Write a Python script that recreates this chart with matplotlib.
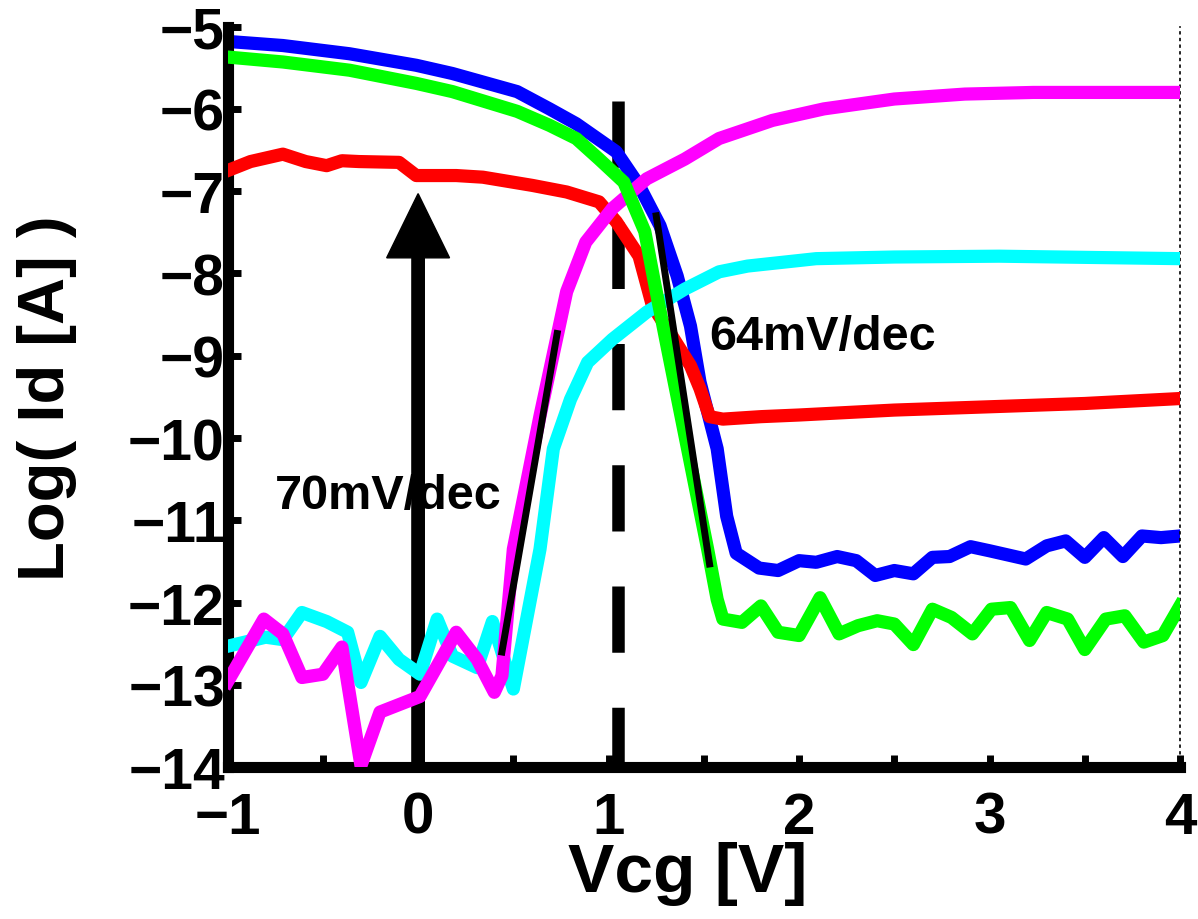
import matplotlib
matplotlib.use('Agg')
import matplotlib.pyplot as plt
from matplotlib.ticker import MultipleLocator

plt.rcParams['font.family'] = ['Liberation Sans', 'DejaVu Sans']
plt.rcParams['font.weight'] = 'bold'

# Vcg [V] vs log10(Id [A])
blue_x = [-1.0, -0.71, -0.36, -0.01, 0.18, 0.52, 0.69, 0.83, 1.04, 1.16,
          1.27, 1.36, 1.43, 1.48, 1.57, 1.62, 1.67, 1.79, 1.89, 2.00,
          2.09, 2.20, 2.30, 2.40, 2.50, 2.60, 2.70, 2.79, 2.90, 3.00,
          3.19, 3.30, 3.40, 3.50, 3.60, 3.70, 3.80, 3.90, 4.00]
blue_y = [-5.18, -5.23, -5.33, -5.47, -5.57, -5.79, -6.00, -6.18, -6.52, -6.93,
          -7.42, -8.03, -8.64, -9.32, -10.13, -10.95, -11.40, -11.58, -11.61, -11.49,
          -11.51, -11.44, -11.49, -11.67, -11.61, -11.65, -11.45, -11.44, -11.32, -11.37,
          -11.47, -11.31, -11.25, -11.45, -11.21, -11.44, -11.19, -11.21, -11.19]

green_x = [-1.0, -0.71, -0.36, -0.01, 0.18, 0.52, 0.69, 0.83, 0.95,
           1.08, 1.19, 1.24, 1.31, 1.38, 1.45, 1.52, 1.57, 1.60,
           1.70, 1.80, 1.89, 2.00, 2.11, 2.21, 2.31, 2.41, 2.50, 2.60,
           2.70, 2.80, 2.91, 3.01, 3.11, 3.21, 3.30, 3.41, 3.50, 3.61,
           3.71, 3.81, 3.91, 4.00]
green_y = [-5.37, -5.43, -5.53, -5.69, -5.79, -6.03, -6.20, -6.36, -6.61,
           -6.89, -7.49, -8.10, -8.92, -9.73, -10.54, -11.35, -11.96, -12.20,
           -12.24, -12.04, -12.36, -12.40, -11.94, -12.38, -12.28, -12.22, -12.26, -12.51,
           -12.08, -12.18, -12.38, -12.08, -12.06, -12.46, -12.12, -12.20, -12.57, -12.20,
           -12.16, -12.48, -12.40, -12.04]

red_x = [-1.0, -0.88, -0.71, -0.59, -0.48, -0.40, -0.31, -0.10, -0.01, 0.20,
         0.34, 0.60, 0.78, 0.95, 1.04, 1.16, 1.23, 1.33, 1.43, 1.48,
         1.53, 1.60, 1.80, 2.00, 2.50, 3.00, 3.50, 4.00]
red_y = [-6.75, -6.64, -6.55, -6.64, -6.69, -6.63, -6.64, -6.65, -6.81, -6.81,
         -6.83, -6.93, -7.01, -7.13, -7.37, -7.79, -8.39, -8.75, -9.12, -9.40,
         -9.74, -9.77, -9.74, -9.72, -9.66, -9.62, -9.58, -9.52]

mag_x = [-1.0, -0.81, -0.71, -0.61, -0.50, -0.40, -0.30, -0.20, 0.01, 0.20,
         0.31, 0.40, 0.44, 0.50, 0.64, 0.73, 0.78, 0.88, 1.02, 1.20,
         1.40, 1.58, 1.86, 2.13, 2.50, 2.87, 3.23, 3.60, 4.00]
mag_y = [-12.96, -12.20, -12.38, -12.91, -12.87, -12.54, -13.98, -13.33, -13.14, -12.36,
         -12.69, -13.09, -12.89, -11.35, -9.73, -8.76, -8.22, -7.62, -7.21, -6.85,
         -6.61, -6.36, -6.14, -6.00, -5.88, -5.82, -5.80, -5.80, -5.80]

cyan_x = [-1.0, -0.80, -0.71, -0.61, -0.48, -0.37, -0.30, -0.20, -0.10, 0.01,
          0.10, 0.18, 0.31, 0.39, 0.50, 0.64, 0.71, 0.80, 0.89, 1.02,
          1.20, 1.40, 1.58, 1.73, 2.09, 2.50, 3.05, 4.00]
cyan_y = [-12.53, -12.42, -12.45, -12.12, -12.23, -12.36, -12.97, -12.41, -12.69, -12.87,
          -12.20, -12.65, -12.79, -12.23, -13.05, -11.35, -10.13, -9.53, -9.08, -8.80,
          -8.47, -8.19, -7.98, -7.91, -7.82, -7.80, -7.79, -7.82]

# subthreshold slope fits
fit70_x = [0.44, 0.73]
fit70_y = [-12.60, -8.73]
fit64_x = [1.25, 1.53]
fit64_y = [-7.30, -11.53]

vline_x = 1.05
arrow_x = 0.0
arrow_top = -7.03

fig = plt.figure(figsize=(11.98, 9.2), dpi=100)
ax = fig.add_axes([0.190, 0.165, 0.795, 0.805])

lw = 9.5
ax.plot([vline_x, vline_x], [-5.9, -14], color='k', lw=9, ls=(0, (5.3, 4.4)), zorder=1)
ax.arrow(arrow_x, -14, 0, arrow_top + 14, width=0.065, head_width=0.33, head_length=0.78,
         length_includes_head=True, color='k', zorder=1.5)

ax.plot(blue_x, blue_y, color='#0000ff', lw=lw, zorder=2)
ax.plot(red_x, red_y, color='#ff0000', lw=lw, zorder=3)
ax.plot(cyan_x, cyan_y, color='#00ffff', lw=lw, zorder=4)
ax.plot(mag_x, mag_y, color='#ff00ff', lw=lw, zorder=5)
ax.plot(green_x, green_y, color='#00ff00', lw=lw, zorder=6)
ax.plot(fit70_x, fit70_y, color='k', lw=5, zorder=7)
ax.plot(fit64_x, fit64_y, color='k', lw=5, zorder=7)

ax.text(-0.75, -10.7, '70mV/dec', fontsize=35, fontweight='bold', va='center', ha='left', zorder=8)
ax.text(1.53, -8.77, '64mV/dec', fontsize=35, fontweight='bold', va='center', ha='left', zorder=8)

ax.set_xlim(-1, 4)
ax.set_ylim(-14, -5)
ax.xaxis.set_major_locator(MultipleLocator(1))
ax.xaxis.set_minor_locator(MultipleLocator(0.5))
ax.yaxis.set_major_locator(MultipleLocator(1))

for side in ['left', 'bottom']:
    ax.spines[side].set_linewidth(8)
ax.spines['top'].set_visible(False)
ax.spines['right'].set_linewidth(1.2)
ax.spines['right'].set_linestyle((0, (1, 3)))

ax.tick_params(which='both', direction='in', length=9, width=5, top=False, right=False)
ax.tick_params(axis='y', labelsize=41, pad=2)
ax.tick_params(axis='x', labelsize=42, pad=17)
for t in ax.get_xticklabels() + ax.get_yticklabels():
    t.set_fontweight('bold')

ax.set_xlabel('Vcg [V]', fontsize=50, fontweight='bold')
ax.xaxis.set_label_coords(0.483, -0.099)
ax.set_ylabel('Log( Id [A] )', fontsize=47, fontweight='bold')
ax.yaxis.set_label_coords(-0.158, 0.5)

fig.savefig('out.png', dpi=100)
